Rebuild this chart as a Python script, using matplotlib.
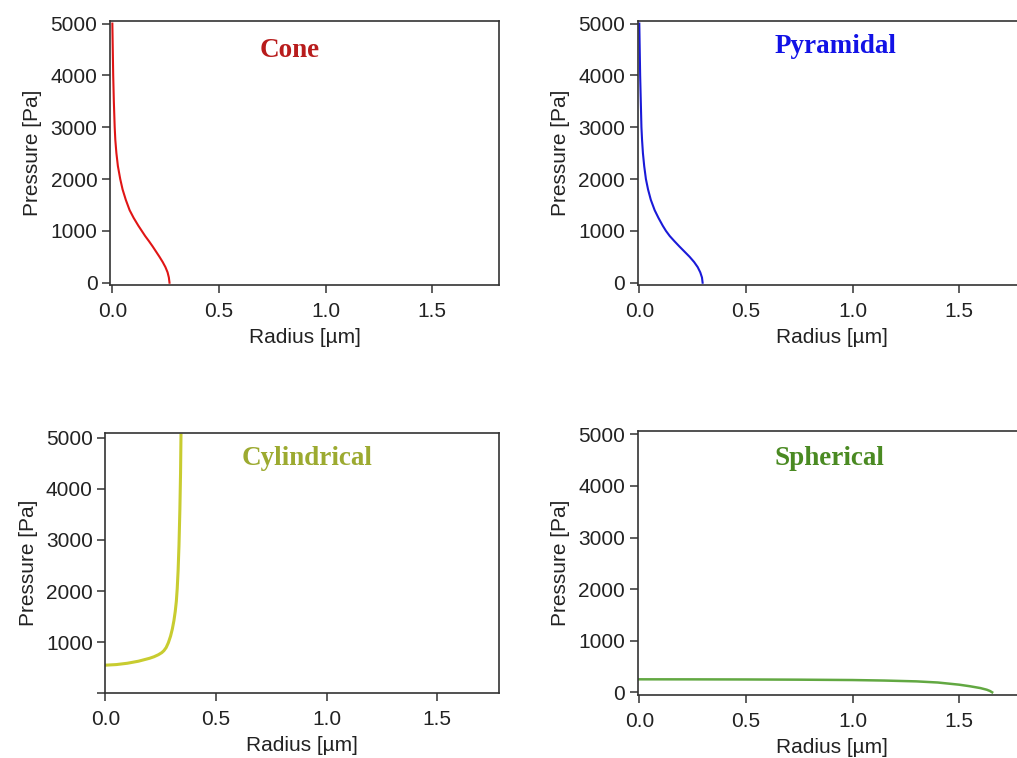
import matplotlib
matplotlib.use("Agg")
import matplotlib.pyplot as plt

# Cone: pressure [Pa] vs radius [um]
cone_p = [5000, 4500, 4000, 3500, 3000, 2750, 2500, 2250, 2000, 1800, 1600, 1400, 1250, 1100, 1000,
          900, 800, 700, 600, 500, 400, 300, 200, 100, 0]
cone_r = [0.000, 0.002, 0.004, 0.007, 0.011, 0.014, 0.019, 0.026, 0.037, 0.048, 0.063, 0.081, 0.100, 0.122, 0.138,
          0.154, 0.172, 0.189, 0.205, 0.221, 0.236, 0.249, 0.259, 0.265, 0.268]

# Pyramidal
pyr_p = [5000, 4500, 4000, 3500, 3000, 2750, 2500, 2250, 2000, 1800, 1600, 1400, 1250, 1100, 1000,
         900, 800, 700, 600, 500, 400, 300, 200, 100, 0]
pyr_r = [0.000, 0.002, 0.004, 0.007, 0.010, 0.013, 0.017, 0.023, 0.031, 0.041, 0.054, 0.072, 0.090, 0.110, 0.125,
         0.143, 0.165, 0.188, 0.212, 0.236, 0.257, 0.274, 0.286, 0.294, 0.297]

# Cylindrical
cyl_r = [0.0, 0.05, 0.10, 0.15, 0.20, 0.22, 0.24, 0.255, 0.265, 0.275, 0.285, 0.295, 0.303, 0.31, 0.316,
         0.321, 0.325, 0.329, 0.333, 0.337, 0.340, 0.342]
cyl_p = [550, 562, 588, 628, 685, 715, 755, 795, 835, 895, 990, 1120, 1260, 1420, 1600,
         1800, 2050, 2400, 2900, 3600, 4300, 5050]

# Spherical
sph_r = [0.0, 0.25, 0.5, 0.75, 1.0, 1.15, 1.3, 1.4, 1.5, 1.55, 1.6, 1.63, 1.645, 1.655]
sph_p = [252, 251, 249, 245, 238, 228, 212, 190, 148, 118, 82, 50, 25, 0]

y_ticks = [0, 1000, 2000, 3000, 4000, 5000]
x_ticks = [0.0, 0.5, 1.0, 1.5]

plt.rcParams["font.family"] = ["Liberation Sans", "DejaVu Sans"]

W, H = 1017, 758
fig = plt.figure(figsize=(W / 100, H / 100), dpi=100)


def panel(left, top, width, height, xlim, ylim):
    ax = fig.add_axes([left / W, 1 - (top + height) / H, width / W, height / H])
    ax.set_xlim(*xlim)
    ax.set_ylim(*ylim)
    for s in ax.spines.values():
        s.set_linewidth(1.2)
        s.set_color("#333333")
    ax.tick_params(direction="out", length=6, width=1.1, color="#333333",
                   labelsize=15, labelcolor="#222222")
    ax.tick_params(axis="x", pad=6)
    ax.tick_params(axis="y", pad=3)
    ax.set_xticks(x_ticks)
    ax.set_xticklabels(["0.0", "0.5", "1.0", "1.5"])
    ax.set_yticks(y_ticks)
    ax.set_xlabel("Radius [µm]", fontsize=15, color="#222222", labelpad=5)
    ax.set_ylabel("Pressure [Pa]", fontsize=15, color="#222222", labelpad=6)
    return ax


def title(ax, x, y, text, color):
    ax.text(x, y, text, color=color, fontsize=19.5, fontweight="bold",
            family=["Liberation Serif", "DejaVu Serif"], ha="center", va="center")


ax1 = panel(110, 21, 389, 264, (-0.011, 1.813), (-44, 5050))
ax1.plot(cone_r, cone_p, color="#e01515", lw=1.5)
title(ax1, 0.83, 4480, "Cone", "#b81c1c")

ax2 = panel(637.7, 21, 389, 264, (-0.0075, 1.817), (-44, 5050))
ax2.plot(pyr_r, pyr_p, color="#1a1ad8", lw=1.5)
title(ax2, 0.92, 4560, "Pyramidal", "#1212e6")

ax3 = panel(105.3, 432.7, 393.7, 260.6, (0, 1.779), (0, 5098))
ax3.plot(cyl_r, cyl_p, color="#c8cc30", lw=2.2)
ax3.set_yticklabels(["", "1000", "2000", "3000", "4000", "5000"])
title(ax3, 0.91, 4590, "Cylindrical", "#9caa30")

ax4 = panel(637.7, 430.7, 389, 264.3, (-0.0075, 1.817), (-52, 5070))
ax4.plot(sph_r, sph_p, color="#62a842", lw=1.8)
title(ax4, 0.89, 4530, "Spherical", "#4a8a22")

fig.savefig("out.png", dpi=100)
